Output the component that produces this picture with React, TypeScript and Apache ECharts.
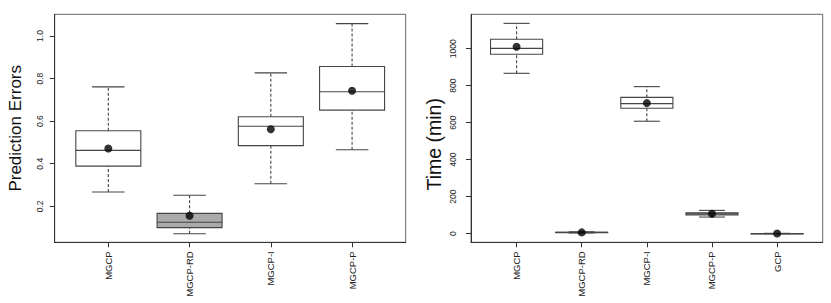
import React, { useEffect, useRef } from "react";
import * as echarts from "echarts";

// ---------- Data ----------
const errCategories = ["MGCP", "MGCP-RD", "MGCP-I", "MGCP-P"];
// [lower whisker, Q1, median, Q3, upper whisker]
const errBoxes = [
  [0.267, 0.389, 0.463, 0.555, 0.761],
  [0.071, 0.1, 0.125, 0.167, 0.252],
  [0.306, 0.485, 0.576, 0.621, 0.827],
  [0.466, 0.652, 0.738, 0.857, 1.058],
];
const errMeans = [0.472, 0.156, 0.562, 0.743];
const errFilled = [0, 1, 0, 0];
const errTicks = [0.2, 0.4, 0.6, 0.8, 1.0];

const timeCategories = ["MGCP", "MGCP-RD", "MGCP-I", "MGCP-P", "GCP"];
const timeBoxes = [
  [867, 970, 1002, 1051, 1137],
  [4, 6, 7, 8, 10],
  [608, 678, 703, 737, 795],
  [90, 101, 107, 113, 126],
  [0, 0.3, 0.6, 1, 2],
];
const timeMeans = [1011, 7, 706, 108, 1];
const timeFilled = [0, 0, 0, 1, 1];
const timeTicks = [0, 200, 400, 600, 800, 1000];

const FONT = "Liberation Sans";
const LINE = "#454545";

const renderBox = (params: any, api: any) => {
  const x = api.value(0);
  const lo = api.value(1);
  const q1 = api.value(2);
  const med = api.value(3);
  const q3 = api.value(4);
  const hi = api.value(5);
  const filled = api.value(6) === 1;
  const half = api.size([0.8, 0])[0] / 2;
  const sHalf = half / 2;
  const cx = api.coord([x, lo])[0];
  const yLo = api.coord([x, lo])[1];
  const yQ1 = api.coord([x, q1])[1];
  const yMed = api.coord([x, med])[1];
  const yQ3 = api.coord([x, q3])[1];
  const yHi = api.coord([x, hi])[1];
  const line = (x1: number, y1: number, x2: number, y2: number, dashed?: boolean) => ({
    type: "line",
    shape: { x1, y1, x2, y2 },
    style: { stroke: LINE, lineWidth: 1.1, lineDash: dashed ? [3, 2] : null },
  });
  return {
    type: "group",
    children: [
      line(cx, yLo, cx, yQ1, true),
      line(cx, yQ3, cx, yHi, true),
      line(cx - sHalf, yLo, cx + sHalf, yLo),
      line(cx - sHalf, yHi, cx + sHalf, yHi),
      {
        type: "rect",
        shape: { x: cx - half, y: yQ3, width: 2 * half, height: Math.max(yQ1 - yQ3, 0.5) },
        style: { fill: filled ? "#aaaaaa" : "#ffffff", stroke: LINE, lineWidth: 1.1 },
      },
      line(cx - half, yMed, cx + half, yMed),
    ],
  };
};

function boxData(boxes: number[][], filled: number[]) {
  return boxes.map((b, i) => [i + 1, ...b, filled[i]]);
}
function meanData(means: number[]) {
  return means.map((m, i) => [i + 1, m]);
}

function xAxisFor(gridIndex: number, cats: string[], min: number, max: number) {
  const pos = cats.map((_, i) => i + 1);
  return {
    type: "value",
    gridIndex,
    min,
    max,
    axisLine: { show: true, onZero: false, lineStyle: { color: "#333", width: 1 } },
    axisTick: { show: true, customValues: pos, length: 5, lineStyle: { color: "#333" } },
    axisLabel: {
      customValues: pos,
      formatter: (v: number) => cats[Math.round(v) - 1] ?? "",
      rotate: 90,
      margin: 9,
      fontSize: 9.5,
      color: "#222",
      fontFamily: FONT,
    },
    splitLine: { show: false },
  };
}

function yAxisFor(
  gridIndex: number,
  ticks: number[],
  min: number,
  max: number,
  name: string,
  nameGap: number,
  nameSize: number,
  namePadding: number[],
  margin: number,
  fmt: (v: number) => string
) {
  return {
    type: "value",
    gridIndex,
    min,
    max,
    name,
    nameLocation: "middle",
    nameGap,
    nameTextStyle: { fontSize: nameSize, color: "#111", fontFamily: FONT, padding: namePadding },
    axisLine: { show: true, onZero: false, lineStyle: { color: "#333", width: 1 } },
    axisTick: { show: true, customValues: ticks, length: 5, lineStyle: { color: "#333" } },
    axisLabel: {
      customValues: ticks,
      formatter: fmt,
      rotate: 90,
      margin,
      fontSize: 8.5,
      color: "#222",
      fontFamily: FONT,
    },
    splitLine: { show: false },
  };
}

export default function App() {
  const ref = useRef<HTMLDivElement>(null);
  useEffect(() => {
    document.body.style.margin = "0";
    if (!ref.current) return;
    const chart = echarts.init(ref.current, undefined, { renderer: "svg" });
    chart.setOption({
      animation: false,
      backgroundColor: "#ffffff",
      grid: [
        { left: 54.7, top: 14.3, width: 351, height: 228, show: true, borderColor: "#666", borderWidth: 1, backgroundColor: "transparent" },
        { left: 471, top: 14.3, width: 351.7, height: 228, show: true, borderColor: "#666", borderWidth: 1, backgroundColor: "transparent" },
      ],
      xAxis: [
        xAxisFor(0, errCategories, 0.34, 4.66),
        xAxisFor(1, timeCategories, 0.3, 5.7),
      ],
      yAxis: [
        yAxisFor(0, errTicks, 0.031, 1.102, "Prediction Errors", 31, 17, [0, 0, 0, 0], 10, (v) => v.toFixed(1)),
        yAxisFor(1, timeTicks, -46.5, 1186, "Time (min)", 27, 19.5, [0, 32, 0, 0], 14, (v) => String(Math.round(v))),
      ],
      series: [
        {
          type: "custom",
          xAxisIndex: 0,
          yAxisIndex: 0,
          renderItem: renderBox,
          encode: { x: 0, y: [1, 2, 3, 4, 5] },
          data: boxData(errBoxes, errFilled),
          z: 2,
        },
        {
          type: "scatter",
          xAxisIndex: 0,
          yAxisIndex: 0,
          symbolSize: 8,
          itemStyle: { color: "#000" },
          data: meanData(errMeans),
          z: 3,
        },
        {
          type: "custom",
          xAxisIndex: 1,
          yAxisIndex: 1,
          renderItem: renderBox,
          encode: { x: 0, y: [1, 2, 3, 4, 5] },
          data: boxData(timeBoxes, timeFilled),
          z: 2,
        },
        {
          type: "scatter",
          xAxisIndex: 1,
          yAxisIndex: 1,
          symbolSize: 8,
          itemStyle: { color: "#000" },
          data: meanData(timeMeans),
          z: 3,
        },
      ],
    });
    return () => chart.dispose();
  }, []);
  return <div ref={ref} style={{ width: 831, height: 303 }} />;
}
